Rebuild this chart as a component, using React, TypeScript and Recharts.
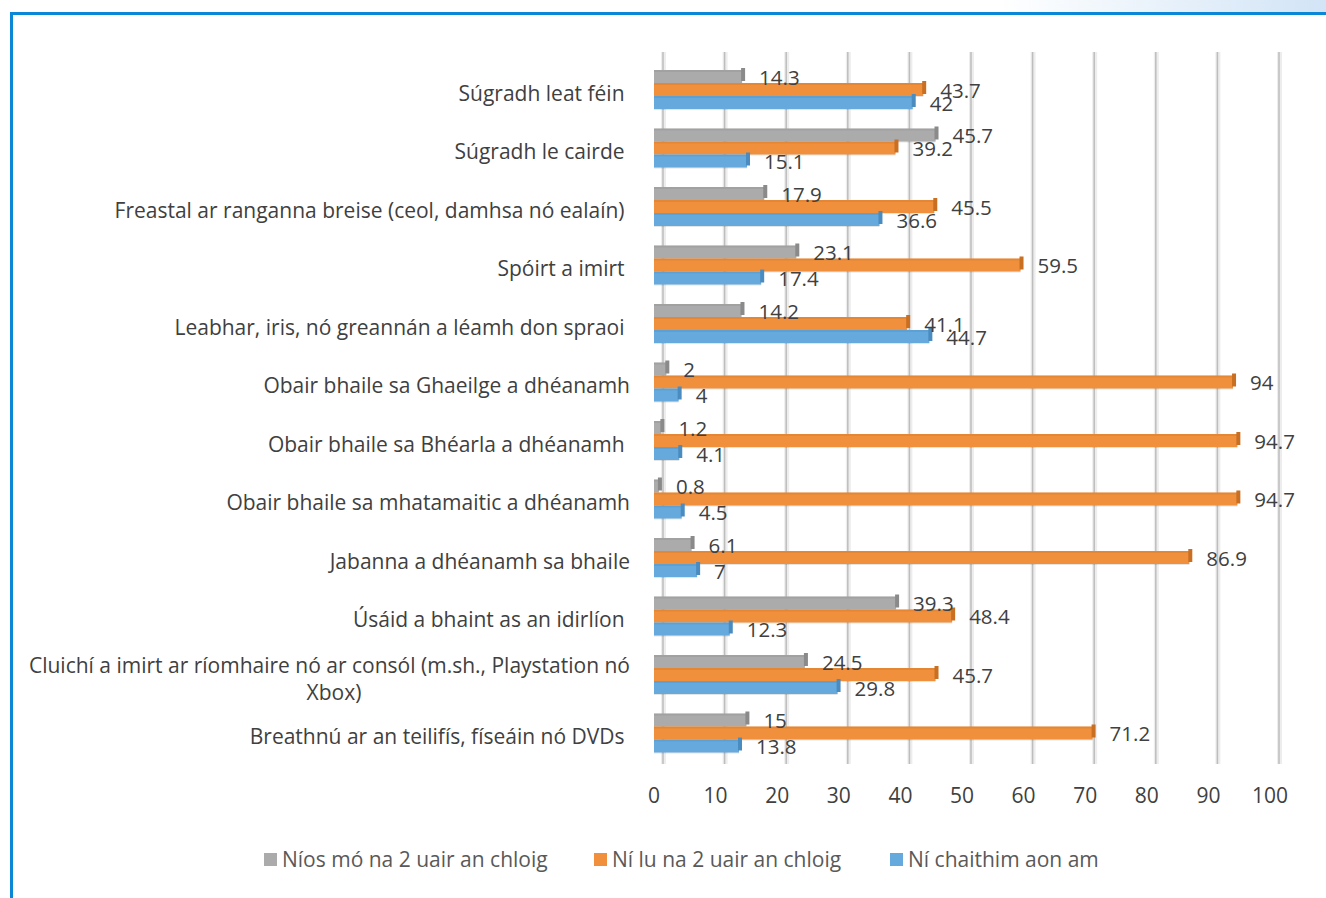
import React from 'react';
import { BarChart, Bar, XAxis, YAxis, CartesianGrid, LabelList } from 'recharts';

// categories, top to bottom
const categories = [
  'Súgradh leat féin ',
  'Súgradh le cairde ',
  'Freastal ar ranganna breise (ceol, damhsa nó ealaín) ',
  'Spóirt a imirt ',
  'Leabhar, iris, nó greannán a léamh don spraoi ',
  'Obair bhaile sa Ghaeilge a dhéanamh',
  'Obair bhaile sa Bhéarla a dhéanamh ',
  'Obair bhaile sa mhatamaitic a dhéanamh',
  'Jabanna a dhéanamh sa bhaile',
  'Úsáid a bhaint as an idirlíon ',
  'Cluichí a imirt ar ríomhaire nó ar consól (m.sh., Playstation nó|Xbox)',
  'Breathnú ar an teilifís, físeáin nó DVDs ',
];

const moreThan2 = [14.3, 45.7, 17.9, 23.1, 14.2, 2, 1.2, 0.8, 6.1, 39.3, 24.5, 15];
const lessThan2 = [43.7, 39.2, 45.5, 59.5, 41.1, 94, 94.7, 94.7, 86.9, 48.4, 45.7, 71.2];
const noTime = [42, 15.1, 36.6, 17.4, 44.7, 4, 4.1, 4.5, 7, 12.3, 29.8, 13.8];

const xTicks = [0, 10, 20, 30, 40, 50, 60, 70, 80, 90, 100];

const seriesNames = ['Níos mó na 2 uair an chloig', 'Ní lu na 2 uair an chloig', 'Ní chaithim aon am'];
const seriesColors = ['#ababab', '#f0903c', '#66aadd'];
const seriesDark = ['#8a8a8a', '#c96f22', '#4a8cc0'];
const legendLeft = [264, 594, 890];

const data = categories.map((name, i) => ({
  name,
  more: moreThan2[i],
  less: lessThan2[i],
  none: noTime[i],
}));

const FONT = '"Open Sans", Lato, sans-serif';

// bar with a small 3D end cap
const bar3d = (idx: number) => (props: any) => {
  const { x, y, width, height } = props;
  if (width <= 0) return <g />;
  return (
    <g>
      <rect x={x} y={y + 1} width={width} height={height} fill="#000" opacity={0.1} />
      <rect x={x} y={y} width={width} height={height} fill={seriesColors[idx]} />
      <rect x={x} y={y} width={width} height={2} fill={seriesDark[idx]} opacity={0.3} />
      <rect x={x + width - 1} y={y - 2} width={4} height={height} fill={seriesDark[idx]} />
    </g>
  );
};

const valueLabel = (props: any) => {
  const { x, y, width, height, value } = props;
  return (
    <text x={x + width + 17} y={y + height / 2 + 3} fill="#404040" fontSize={20.5} fontFamily={FONT} dominantBaseline="middle">
      {value}
    </text>
  );
};

const CategoryTick = (props: any) => {
  const { x, y, payload } = props;
  const lines = String(payload.value).split('|');
  if (lines.length === 1) {
    return (
      <text x={x} y={y + 6} textAnchor="end" dominantBaseline="middle" fill="#404040" fontSize={21} fontFamily={FONT} style={{ whiteSpace: 'pre' }}>
        {lines[0]}
      </text>
    );
  }
  return (
    <g>
      <text x={x} y={y - 7} textAnchor="end" dominantBaseline="middle" fill="#404040" fontSize={21} fontFamily={FONT}>
        {lines[0]}
      </text>
      <text x={x - 296} y={y + 20} textAnchor="middle" dominantBaseline="middle" fill="#404040" fontSize={21} fontFamily={FONT}>
        {lines[1]}
      </text>
    </g>
  );
};

const gridLine = (props: any) => {
  const { x1, y1, y2, index } = props;
  const gx = x1 + 9;
  return (
    <g key={`g-${index}`}>
      <rect x={gx - 2} y={y1 - 8} width={5} height={y2 - y1 + 10} fill="#ededed" />
      <line x1={gx} y1={y1 - 8} x2={gx} y2={y2 + 2} stroke="#bdbdbd" strokeWidth={1.5} />
    </g>
  );
};

export default function App() {
  return (
    <div style={{ position: 'absolute', left: 0, top: 0, width: 1326, height: 898, background: '#fff', overflow: 'hidden', fontFamily: FONT }}>
      <div style={{ position: 'absolute', left: 1000, top: 0, width: 326, height: 12, background: 'linear-gradient(to right, #ffffff, #d2e4f6)' }} />
      <div style={{ position: 'absolute', left: 10, top: 12, width: 1400, height: 1000, borderLeft: '3px solid #0a87d6', borderTop: '3px solid #0a87d6' }} />
      <div style={{ position: 'absolute', left: 0, top: 0 }}>
        <BarChart
          width={1326}
          height={898}
          data={data}
          layout="vertical"
          margin={{ top: 60, right: 56, bottom: 86, left: 0 }}
          barCategoryGap="33%"
          barGap={0}
        >
          <CartesianGrid horizontal={false} vertical={gridLine} />
          <XAxis
            type="number"
            domain={[0, 100]}
            ticks={xTicks}
            axisLine={false}
            tickLine={false}
            tickSize={0}
            tickMargin={26}
            height={50}
            tick={{ fill: '#404040', fontSize: 21, fontFamily: FONT }}
          />
          <YAxis
            type="category"
            dataKey="name"
            width={654}
            axisLine={false}
            tickLine={false}
            tickSize={0}
            tickMargin={24}
            tick={<CategoryTick />}
            interval={0}
          />
          <Bar dataKey="more" name={seriesNames[0]} fill={seriesColors[0]} barSize={13} shape={bar3d(0)} isAnimationActive={false}>
            <LabelList dataKey="more" content={valueLabel} />
          </Bar>
          <Bar dataKey="less" name={seriesNames[1]} fill={seriesColors[1]} barSize={13} shape={bar3d(1)} isAnimationActive={false}>
            <LabelList dataKey="less" content={valueLabel} />
          </Bar>
          <Bar dataKey="none" name={seriesNames[2]} fill={seriesColors[2]} barSize={13} shape={bar3d(2)} isAnimationActive={false}>
            <LabelList dataKey="none" content={valueLabel} />
          </Bar>
        </BarChart>
      </div>
      {/* legend */}
      {seriesNames.map((n, i) => (
        <div key={n} style={{ position: 'absolute', left: legendLeft[i], top: 845, display: 'flex', alignItems: 'center', fontSize: 21, color: '#595959', whiteSpace: 'nowrap' }}>
          <span style={{ display: 'inline-block', width: 13, height: 13, background: seriesColors[i], marginRight: 5 }} />
          <span>{n}</span>
        </div>
      ))}
    </div>
  );
}
